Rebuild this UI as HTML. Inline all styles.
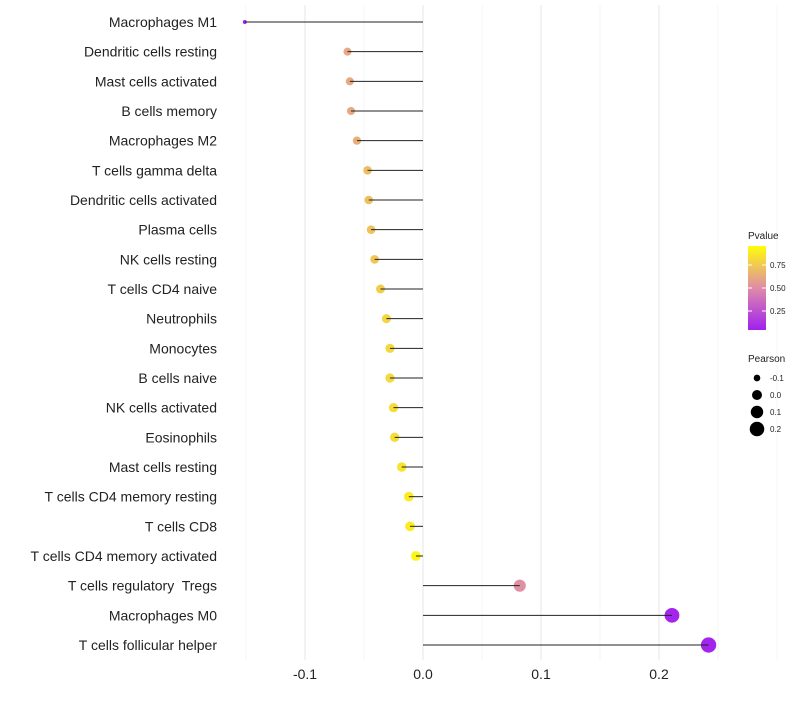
<!DOCTYPE html>
<html><head><meta charset="utf-8"><style>
body{margin:0;background:#fff;font-family:"Liberation Sans",sans-serif}
text{white-space:pre}
</style></head><body>
<svg id="c" width="800" height="700" xmlns="http://www.w3.org/2000/svg"></svg>
<script>
const categories=["Macrophages M1","Dendritic cells resting","Mast cells activated","B cells memory","Macrophages M2","T cells gamma delta","Dendritic cells activated","Plasma cells","NK cells resting","T cells CD4 naive","Neutrophils","Monocytes","B cells naive","NK cells activated","Eosinophils","Mast cells resting","T cells CD4 memory resting","T cells CD8","T cells CD4 memory activated","T cells regulatory  Tregs","Macrophages M0","T cells follicular helper"];
const pearson=[-0.151,-0.064,-0.062,-0.061,-0.056,-0.047,-0.046,-0.044,-0.041,-0.036,-0.031,-0.028,-0.028,-0.025,-0.024,-0.018,-0.012,-0.011,-0.006,0.082,0.211,0.242];
const pvalue=[0.02,0.62,0.63,0.63,0.66,0.72,0.73,0.74,0.76,0.79,0.82,0.84,0.84,0.86,0.86,0.89,0.93,0.93,0.97,0.52,0.03,0.02];
const xTicks=[-0.1,0,0.1,0.2];
const xTickLabels=["-0.1","0.0","0.1","0.2"];
const cbTicks=[0.25,0.5,0.75];
const sizeLegend=[-0.1,0,0.1,0.2];

const svg=document.getElementById('c');const NS='http://www.w3.org/2000/svg';
function mk(t,a,p){const e=document.createElementNS(NS,t);for(const k in a)e.setAttribute(k,a[k]);(p||svg).appendChild(e);return e;}
const x=v=>423+v*1180;
const y=i=>22+i*(623/(categories.length-1));
const r=v=>Math.sqrt(Math.max(1,25+140*v));
const stops=[[0,[160,32,240]],[0.5,[222,140,168]],[1,[255,252,10]]];
function col(p){let a=stops[0],b=stops[1];if(p>0.5){a=stops[1];b=stops[2];}const t=(p-a[0])/(b[0]-a[0]);const c=a[1].map((v,k)=>Math.round(v+(b[1][k]-v)*t));return `rgb(${c})`;}
for(let v=-0.15;v<=0.3;v+=0.05){const vv=Math.round(v*100)/100;const major=xTicks.some(t=>Math.abs(t-vv)<1e-9);const g=mk('line',{x1:x(vv),x2:x(vv),y1:5,y2:660,stroke:major?'#ebebeb':'#f4f4f4','stroke-width':major?1.2:0.8});

}
xTicks.forEach((t,i)=>{const e=mk('text',{x:x(t),y:679,'text-anchor':'middle','font-size':14,fill:'#222'});e.textContent=xTickLabels[i];

});
categories.forEach((c,i)=>{const yy=y(i);
const l=mk('text',{x:217,y:yy+5,'text-anchor':'end','font-size':14,fill:'#222'});l.textContent=c;


const d=mk('circle',{cx:x(pearson[i]),cy:yy,r:r(pearson[i]),fill:col(pvalue[i])});


const s=mk('line',{x1:x(0),x2:x(pearson[i]),y1:yy,y2:yy,stroke:'#222','stroke-width':1});

});
const defs=mk('defs',{});const lg=mk('linearGradient',{id:'g',x1:0,y1:1,x2:0,y2:0},defs);
stops.forEach(s=>mk('stop',{offset:s[0],'stop-color':`rgb(${s[1]})`},lg));
const tt=mk('text',{x:748,y:239,'font-size':10,fill:'#222'});tt.textContent='Pvalue';


const cb=mk('rect',{x:748,y:246,width:18,height:84,fill:'url(#g)'});


const cy=p=>334-p*92;
cbTicks.forEach(p=>{mk('line',{x1:748,x2:752,y1:cy(p),y2:cy(p),stroke:'#fff'});mk('line',{x1:762,x2:766,y1:cy(p),y2:cy(p),stroke:'#fff'});
const e=mk('text',{x:770,y:cy(p)+3,'font-size':8,fill:'#222'});e.textContent=p.toFixed(2);

});
const pt=mk('text',{x:748,y:362,'font-size':10,fill:'#222'});pt.textContent='Pearson';


sizeLegend.forEach((v,i)=>{const yy=378+i*17;const c=mk('circle',{cx:757,cy:yy,r:r(v),fill:'#000'});


const e=mk('text',{x:770,y:yy+3,'font-size':8,fill:'#222'});e.textContent=v.toFixed(1);

});
</script>
</body></html>
